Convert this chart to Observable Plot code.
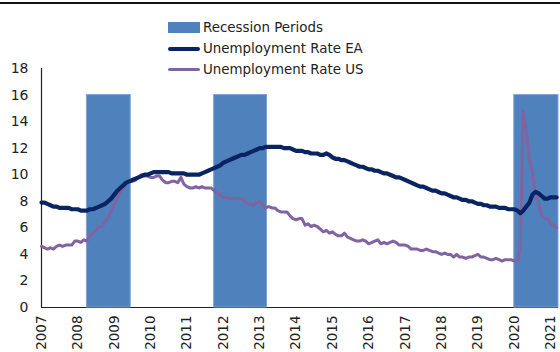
<!DOCTYPE html>
<html><head><meta charset="utf-8">
<script src="https://cdn.jsdelivr.net/npm/d3@7"></script>
<script src="https://cdn.jsdelivr.net/npm/@observablehq/plot@0.6"></script>
<style>
body{margin:0;background:#fff;}
#wrap{position:relative;width:560px;height:352px;overflow:hidden;font-family:"DejaVu Sans",Verdana,sans-serif;}
#topline{position:absolute;left:0;top:2px;width:560px;height:2px;background:#111;}
#legend{position:absolute;left:168px;top:17px;font-size:13.4px;color:#222;}
.row{display:flex;align-items:center;height:21px;}
.sw{width:32px;margin-right:3px;}
</style></head><body>
<div id="wrap">
<div id="topline"></div>
<div id="chart"></div>
<div id="legend">
  <div class="row"><div class="sw" style="height:11px;background:#4f81bd"></div><span>Recession Periods</span></div>
  <div class="row"><div class="sw" style="height:4px;background:#0a2463;border-radius:2px"></div><span>Unemployment Rate EA</span></div>
  <div class="row"><div class="sw" style="height:3px;background:#8064a2;border-radius:2px"></div><span>Unemployment Rate US</span></div>
</div>
</div>
<script>
// Monthly series starting January 2007, ending March 2021
const startYear = 2007;
const eaRate = [
  7.9,7.9,7.8,7.7,7.6,7.6,7.5,7.5,7.5,7.5,7.4,7.4,
  7.4,7.3,7.3,7.3,7.4,7.4,7.5,7.6,7.7,7.8,8.0,8.2,
  8.5,8.8,9.0,9.2,9.4,9.5,9.6,9.7,9.8,9.9,10.0,10.0,
  10.1,10.2,10.2,10.2,10.2,10.2,10.2,10.1,10.1,10.1,10.1,10.1,
  10.0,10.0,10.0,10.0,10.0,10.1,10.2,10.3,10.4,10.5,10.6,10.7,
  10.9,11.0,11.1,11.2,11.3,11.4,11.5,11.5,11.6,11.7,11.8,11.9,
  12.0,12.0,12.1,12.1,12.1,12.1,12.1,12.1,12.0,12.0,12.0,11.9,
  11.8,11.8,11.8,11.7,11.7,11.6,11.6,11.6,11.5,11.5,11.6,11.5,
  11.3,11.2,11.2,11.1,11.1,11.0,10.9,10.8,10.7,10.6,10.6,10.5,
  10.4,10.4,10.3,10.3,10.2,10.1,10.1,10.0,9.9,9.8,9.8,9.7,
  9.6,9.5,9.4,9.3,9.2,9.1,9.1,9.0,8.9,8.8,8.8,8.7,
  8.6,8.6,8.5,8.4,8.3,8.3,8.2,8.1,8.1,8.0,8.0,7.9,
  7.8,7.8,7.7,7.7,7.6,7.6,7.6,7.5,7.5,7.5,7.4,7.4,
  7.4,7.3,7.1,7.3,7.6,7.9,8.5,8.7,8.6,8.4,8.2,8.2,
  8.3,8.3,8.3
];
const usRate = [
  4.6,4.5,4.4,4.5,4.4,4.6,4.7,4.6,4.7,4.7,4.7,5.0,
  5.0,4.9,5.1,5.0,5.4,5.6,5.8,6.1,6.1,6.5,6.8,7.3,
  7.8,8.3,8.7,9.0,9.4,9.5,9.5,9.6,9.8,10.0,9.9,9.9,
  9.8,9.8,9.9,9.9,9.6,9.4,9.4,9.5,9.5,9.4,9.8,9.3,
  9.1,9.0,9.0,9.1,9.0,9.1,9.0,9.0,9.0,8.8,8.6,8.5,
  8.3,8.3,8.2,8.2,8.2,8.2,8.2,8.0,7.8,7.8,7.7,7.9,
  8.0,7.7,7.5,7.6,7.5,7.5,7.3,7.2,7.2,7.2,6.9,6.7,
  6.6,6.7,6.7,6.2,6.3,6.1,6.2,6.1,5.9,5.7,5.8,5.6,
  5.7,5.5,5.4,5.4,5.6,5.3,5.2,5.1,5.0,5.0,5.1,5.0,
  4.8,4.9,5.0,5.1,4.8,4.9,4.8,4.9,5.0,4.9,4.7,4.7,
  4.7,4.6,4.4,4.4,4.4,4.3,4.3,4.4,4.3,4.2,4.2,4.1,
  4.0,4.1,4.0,4.0,3.8,4.0,3.8,3.8,3.7,3.8,3.8,3.9,
  4.0,3.8,3.8,3.7,3.6,3.6,3.7,3.6,3.5,3.6,3.6,3.6,
  3.5,3.5,4.4,14.8,13.3,11.1,10.2,8.4,7.9,6.9,6.7,6.7,
  6.3,6.2,6.0
];
const recessionStart = ["2008-04-01","2011-10-01","2020-01-01"];
const recessionEnd   = ["2009-06-15","2013-03-15","2021-03-20"];
const recessionHeight = 16;
const yearTicks = ["2007","2008","2009","2010","2011","2012","2013","2014","2015","2016","2017","2018","2019","2020","2021"];
const yTicks = [0,2,4,6,8,10,12,14,16,18];

const monthDate = i => new Date(Date.UTC(startYear, i, 1));
const ea = eaRate.map((v,i)=>({date:monthDate(i), v}));
const us = usRate.map((v,i)=>({date:monthDate(i), v}));
const rec = recessionStart.map((s,i)=>({x1:new Date(s+"T00:00Z"), x2:new Date(recessionEnd[i]+"T00:00Z"), y:recessionHeight}));
const xTickDates = yearTicks.map(y=>new Date(Date.UTC(+y,0,1)));

const chart = Plot.plot({
  width:560, height:352,
  marginTop:68, marginBottom:45, marginLeft:41, marginRight:2,
  style:{fontFamily:"DejaVu Sans, Verdana, sans-serif", fontSize:"14px", color:"#222", background:"transparent"},
  x:{type:"utc", domain:[new Date(Date.UTC(2007,0,1)), new Date(Date.UTC(2021,2,20))]},
  y:{domain:[0,18]},
  marks:[
    Plot.axisY({ticks:yTicks, tickSize:0, tickPadding:13, label:null, fontSize:14}),
    Plot.axisX({ticks:xTickDates, tickFormat:d=>String(d.getUTCFullYear()), tickRotate:-90, tickSize:0, tickPadding:8, label:null, fontSize:13.5}),
    Plot.ruleX([new Date(Date.UTC(2007,0,1))], {y1:0, y2:18, stroke:"#222", strokeWidth:1.2}),
    Plot.ruleY([0], {stroke:"#222", strokeWidth:1.2}),
    Plot.rectY(rec, {x1:"x1", x2:"x2", y:"y", fill:"#4f81bd", stroke:"#7fa3d3", strokeWidth:1}),
    Plot.line(us, {x:"date", y:"v", stroke:"#8064a2", strokeWidth:3}),
    Plot.line(ea, {x:"date", y:"v", stroke:"#0a2463", strokeWidth:4.2})
  ]
});
document.getElementById("chart").appendChild(chart);
</script>
</body></html>
